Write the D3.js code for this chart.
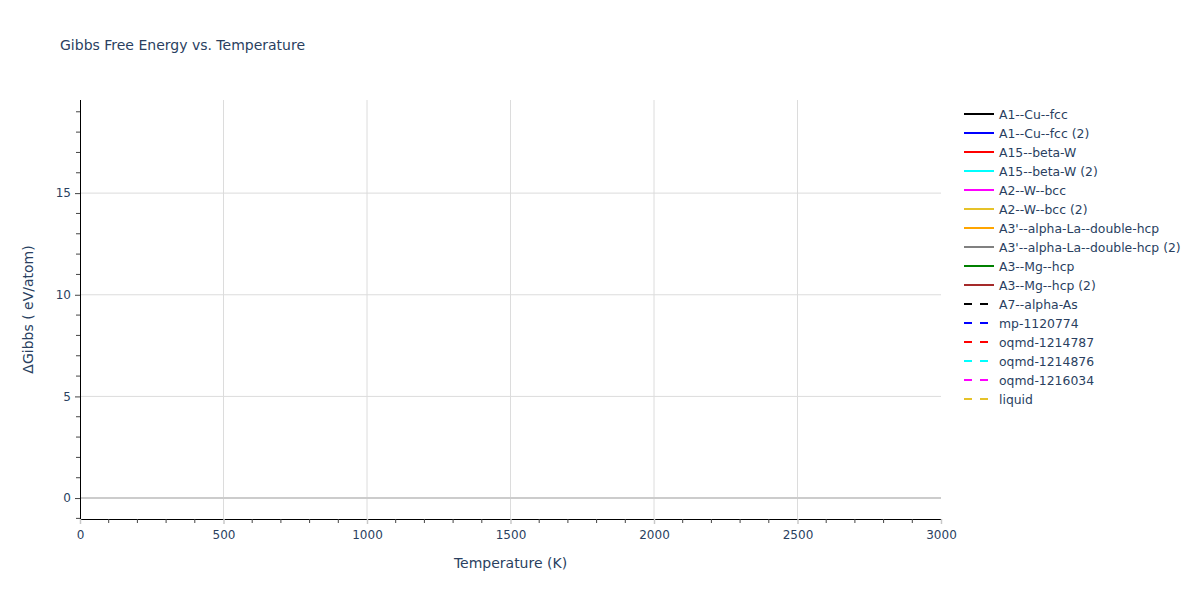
<!DOCTYPE html>
<html>
<head>
<meta charset="utf-8">
<script src="https://cdn.jsdelivr.net/npm/d3@7"></script>
<style>
  html, body { margin: 0; padding: 0; background: #fff; overflow: hidden; }
  svg { display: block; }
</style>
</head>
<body>
<svg id="chart" width="1200" height="600"></svg>
<script>
// series shown in the legend (no points are plotted in the reference)
const seriesNames = [
  'A1--Cu--fcc', 'A1--Cu--fcc (2)', 'A15--beta-W', 'A15--beta-W (2)',
  'A2--W--bcc', 'A2--W--bcc (2)', "A3'--alpha-La--double-hcp",
  "A3'--alpha-La--double-hcp (2)", 'A3--Mg--hcp', 'A3--Mg--hcp (2)',
  'A7--alpha-As', 'mp-1120774', 'oqmd-1214787', 'oqmd-1214876',
  'oqmd-1216034', 'liquid'
];
const seriesColors = [
  'black', 'blue', 'red', 'cyan', 'magenta', '#e6c229', 'orange', 'gray',
  'green', 'brown', 'black', 'blue', 'red', 'cyan', 'magenta', '#e6c229'
];
const seriesDashed = [
  false, false, false, false, false, false, false, false, false, false,
  true, true, true, true, true, true
];
const temperatures = [];
const seriesValues = seriesNames.map(() => []);

const xTicks = [0, 500, 1000, 1500, 2000, 2500, 3000];
const yTicks = [0, 5, 10, 15];
const xDomain = [0, 3000];
const yDomain = [-1.03, 19.58];

const width = 1200, height = 600;
const margin = { top: 100, right: 259, bottom: 81, left: 80 };
const innerWidth = width - margin.left - margin.right;
const innerHeight = height - margin.top - margin.bottom;
const font = '"DejaVu Sans", Verdana, sans-serif';
const textColor = '#2a3f5f';

const svg = d3.select('#chart');

const xScale = d3.scaleLinear().domain(xDomain).range([0, innerWidth]);
const yScale = d3.scaleLinear().domain(yDomain).range([innerHeight, 0]);

const g = svg.append('g')
  .attr('transform', `translate(${margin.left},${margin.top})`);

// grid lines
g.append('g')
  .selectAll('line')
  .data(xTicks.filter(d => d > 0 && d < 3000))
  .enter().append('line')
  .attr('x1', d => xScale(d)).attr('x2', d => xScale(d))
  .attr('y1', 0).attr('y2', innerHeight)
  .attr('stroke', '#dcdcdc').attr('stroke-width', 1);

g.append('g')
  .selectAll('line')
  .data(yTicks.filter(d => d !== 0))
  .enter().append('line')
  .attr('x1', 0).attr('x2', innerWidth)
  .attr('y1', d => yScale(d)).attr('y2', d => yScale(d))
  .attr('stroke', '#dcdcdc').attr('stroke-width', 1);

// zero line
g.append('line')
  .attr('x1', 0).attr('x2', innerWidth)
  .attr('y1', yScale(0)).attr('y2', yScale(0))
  .attr('stroke', '#cccccc').attr('stroke-width', 2);

// traces
const line = d3.line()
  .x((d, i) => xScale(temperatures[i]))
  .y(d => yScale(d));

g.append('g')
  .selectAll('path')
  .data(seriesValues)
  .enter().append('path')
  .attr('fill', 'none')
  .attr('stroke', (d, i) => seriesColors[i])
  .attr('stroke-width', 2)
  .attr('stroke-dasharray', (d, i) => seriesDashed[i] ? '6,6' : null)
  .attr('d', d => d.length ? line(d) : null);

// x axis
const xMinor = d3.range(100, 3000, 100).filter(d => d % 500 !== 0);
const xAxis = g.append('g')
  .attr('transform', `translate(0,${innerHeight})`)
  .call(d3.axisBottom(xScale).tickValues(xTicks).tickSize(5).tickPadding(6)
    .tickFormat(d3.format('d')));
xAxis.attr('font-family', font).attr('font-size', 12);
xAxis.select('.domain').attr('stroke', '#000').attr('d', `M0.5,0.5H${innerWidth}`);
xAxis.selectAll('.tick line').attr('stroke', '#c8c8c8').attr('stroke-width', 1.5);
xAxis.selectAll('.tick text').attr('fill', textColor);
xAxis.selectAll('.minor')
  .data(xMinor)
  .enter().append('line')
  .attr('class', 'minor')
  .attr('x1', d => xScale(d)).attr('x2', d => xScale(d))
  .attr('y1', 0).attr('y2', 4)
  .attr('stroke', '#444');

// y axis
const yMinor = d3.range(-1, 20, 1).filter(d => d % 5 !== 0);
const yAxis = g.append('g')
  .call(d3.axisLeft(yScale).tickValues(yTicks).tickSize(5).tickPadding(4));
yAxis.attr('font-family', font).attr('font-size', 12);
yAxis.select('.domain').attr('stroke', '#000').attr('d', `M0.5,0V${innerHeight}`);
yAxis.selectAll('.tick line').attr('stroke', '#444');
yAxis.selectAll('.tick text').attr('fill', textColor);
yAxis.selectAll('.minor')
  .data(yMinor)
  .enter().append('line')
  .attr('class', 'minor')
  .attr('x1', 0).attr('x2', -4)
  .attr('y1', d => yScale(d)).attr('y2', d => yScale(d))
  .attr('stroke', '#444');

// titles
svg.append('text')
  .attr('x', 60).attr('y', 50)
  .attr('font-family', font).attr('font-size', 14).attr('fill', textColor)
  .text('Gibbs Free Energy vs. Temperature');

svg.append('text')
  .attr('x', margin.left + innerWidth / 2).attr('y', 568)
  .attr('text-anchor', 'middle')
  .attr('font-family', font).attr('font-size', 14).attr('fill', textColor)
  .text('Temperature (K)');

svg.append('text')
  .attr('transform', `translate(33,${margin.top + innerHeight / 2}) rotate(-90)`)
  .attr('text-anchor', 'middle')
  .attr('font-family', font).attr('font-size', 14).attr('fill', textColor)
  .text('ΔGibbs ( eV/atom)');

// legend
const legend = svg.append('g').attr('transform', 'translate(964,114)');
const items = legend.selectAll('g')
  .data(seriesNames)
  .enter().append('g')
  .attr('transform', (d, i) => `translate(0,${i * 19})`);
items.append('line')
  .attr('x1', 0).attr('x2', 30)
  .attr('stroke', (d, i) => seriesColors[i])
  .attr('stroke-width', 2)
  .attr('stroke-dasharray', (d, i) => seriesDashed[i] ? '8,8' : null);
items.append('text')
  .attr('x', 35).attr('y', 4.5)
  .attr('font-family', font).attr('font-size', 12.4).attr('fill', textColor)
  .text(d => d);
</script>
</body>
</html>
